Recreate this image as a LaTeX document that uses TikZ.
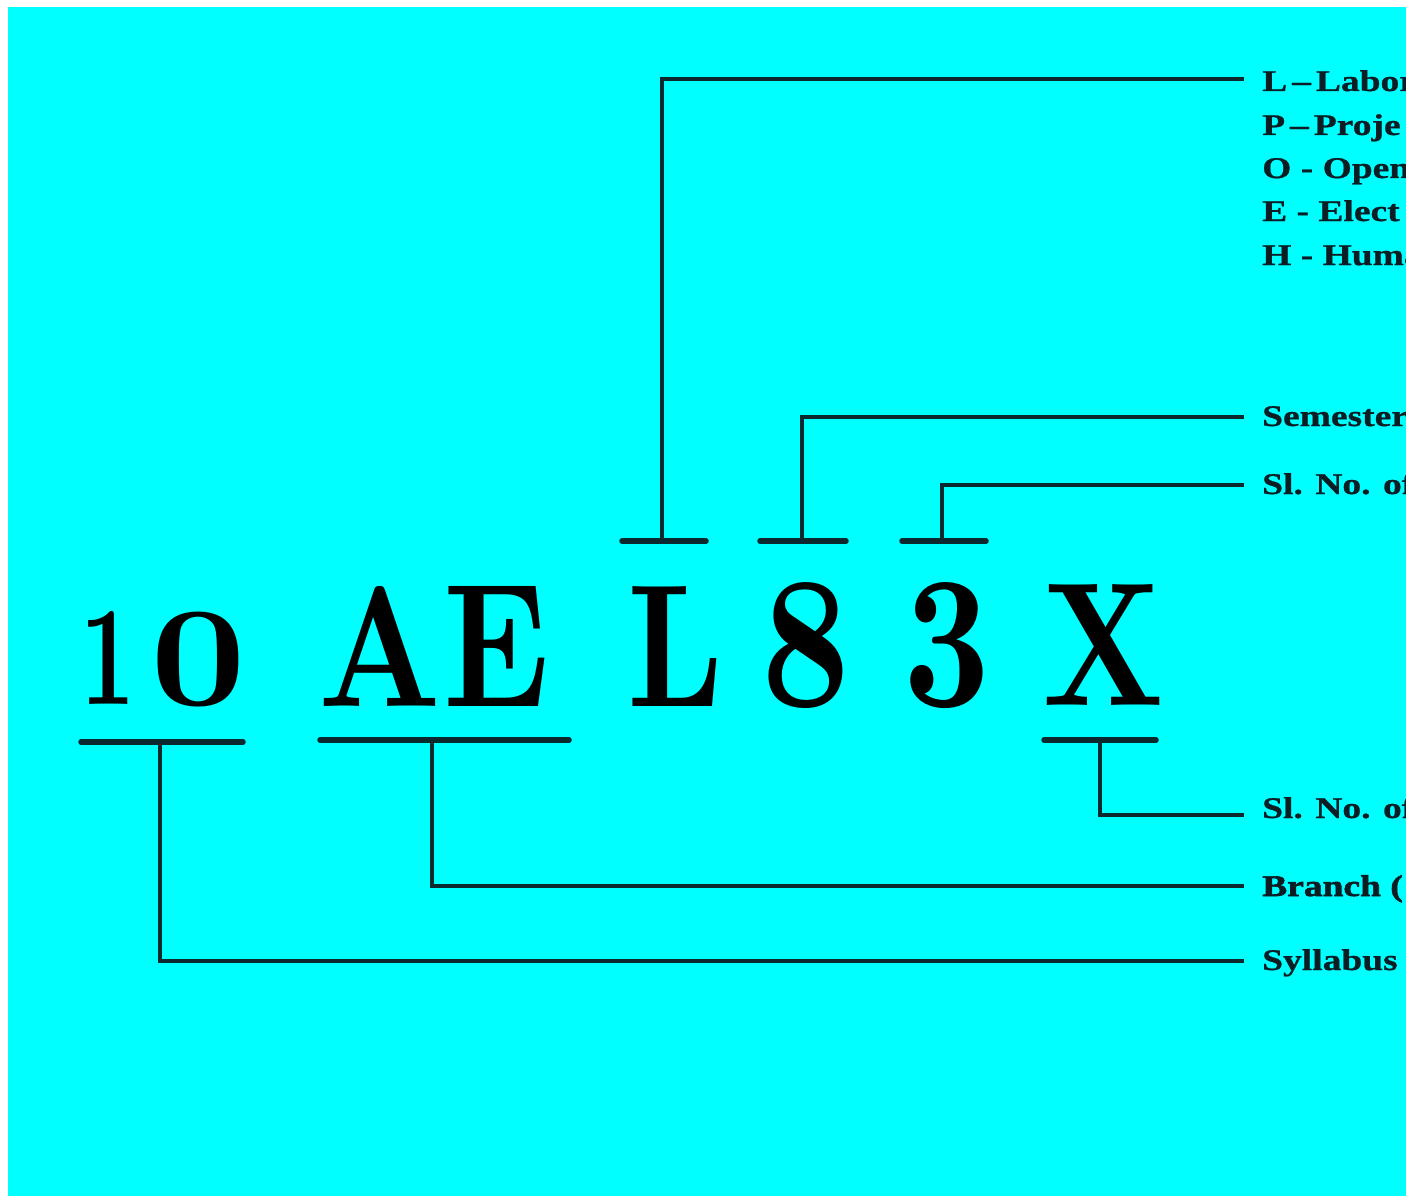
\documentclass[tikz,border=0pt]{standalone}
\usepackage{fontspec}
\usepackage{graphicx}
\newfontfamily\labfont[FakeStretch=1.25,FakeBold=0.8]{Liberation Serif}
\newfontfamily\labheavy[FakeStretch=1.25,FakeBold=2]{Liberation Serif}
\definecolor{bgcyan}{RGB}{0,255,255}
\definecolor{ink}{RGB}{10,42,48}
\definecolor{txt}{RGB}{12,30,36}
% one big glyph, stretched to fill the box (left, bottom, width, height)
\newcommand\bigglyph[6]{%
  \node[glyph] (#1) at (#2,#3) {\resizebox*{#4pt}{#5pt}{\bfseries #6}};}
\tikzset{
  glyph/.style={inner sep=0pt, anchor=south west, text=black},
  bar/.style={draw=ink, line width=5.5pt, line cap=round},
  link/.style={draw=ink, line width=3.2pt},
  lab/.style={inner sep=0pt, anchor=base west, text=txt, font=\labfont\bfseries\fontsize{30}{30}\selectfont},
  labh/.style={lab, font=\labheavy\bfseries\fontsize{30}{30}\selectfont},
}
\begin{document}
\begin{tikzpicture}[x=1pt,y=-1pt]
  \useasboundingbox (0,0) rectangle (1406,1196);
  \clip (0,0) rectangle (1406,1196);
  \fill[white] (0,0) rectangle (1406,1196);
  \fill[bgcyan] (8,7) rectangle (1406,1196);

  % course code, letter by letter
  \bigglyph{g1}{80}{705}{55}{93}{1}
  \bigglyph{g0}{150}{707}{96}{95}{0}
  \bigglyph{gA}{318}{707}{123}{120}{A}
  \bigglyph{gE}{443}{707}{106}{120}{E}
  \bigglyph{gL}{627}{707}{96}{120}{L}
  \bigglyph{g8}{761}{709}{89}{126}{8}
  \bigglyph{g3}{903}{709}{87}{126}{3}
  \bigglyph{gX}{1042}{706}{122}{121}{X}

  % underline / overline bars
  \coordinate (b10l) at (81,742);   \coordinate (b10r) at (243,742);
  \coordinate (bAEl) at (320,740);  \coordinate (bAEr) at (569,740);
  \coordinate (bLl)  at (622,541);  \coordinate (bLr)  at (706,541);
  \coordinate (b8l)  at (760,541);  \coordinate (b8r)  at (846,541);
  \coordinate (b3l)  at (902,541);  \coordinate (b3r)  at (986,541);
  \coordinate (bXl)  at (1044,740); \coordinate (bXr)  at (1156,740);
  \draw[bar] (b10l) -- (b10r);
  \draw[bar] (bAEl) -- (bAEr);
  \draw[bar] (bLl) -- (bLr);
  \draw[bar] (b8l) -- (b8r);
  \draw[bar] (b3l) -- (b3r);
  \draw[bar] (bXl) -- (bXr);

  % connector stems start on the bars
  \coordinate (s10) at (160,742);
  \coordinate (sAE) at (432,740);
  \coordinate (sL)  at (662,541);
  \coordinate (s8)  at (802,541);
  \coordinate (s3)  at (942,541);
  \coordinate (sX)  at (1100,740);

  % connector ends beside the labels
  \coordinate (eL)  at (1244,79);
  \coordinate (e8)  at (1244,417);
  \coordinate (e3)  at (1244,485);
  \coordinate (eX)  at (1244,815);
  \coordinate (eAE) at (1244,886);
  \coordinate (e10) at (1244,961);

  \draw[link] (sL) |- (eL);
  \draw[link] (s8) |- (e8);
  \draw[link] (s3) |- (e3);
  \draw[link] (sX) |- (eX);
  \draw[link] (sAE) |- (eAE);
  \draw[link] (s10) |- (e10);

  % labels
  \node[lab] (tL) at (1262,91)  {L\,–\,Labor};
  \node[lab] (tP) at (1262,135) {P\,–\,Proje};
  \node[lab] (tO) at (1262,178) {O - Open};
  \node[lab] (tE) at (1262,221) {E - Elect};
  \node[lab] (tH) at (1262,265) {H - Huma};
  \node[lab] (t8) at (1262,426) {Semester};
  \node[lab] (t3) at (1262,494) {Sl. No. of};
  \node[lab] (tX) at (1262,818) {Sl. No. of};
  \node[labh] (tAE) at (1262,896) {Branch (};
  \node[lab] (t10) at (1262,970) {Syllabus};
\end{tikzpicture}
\end{document}
